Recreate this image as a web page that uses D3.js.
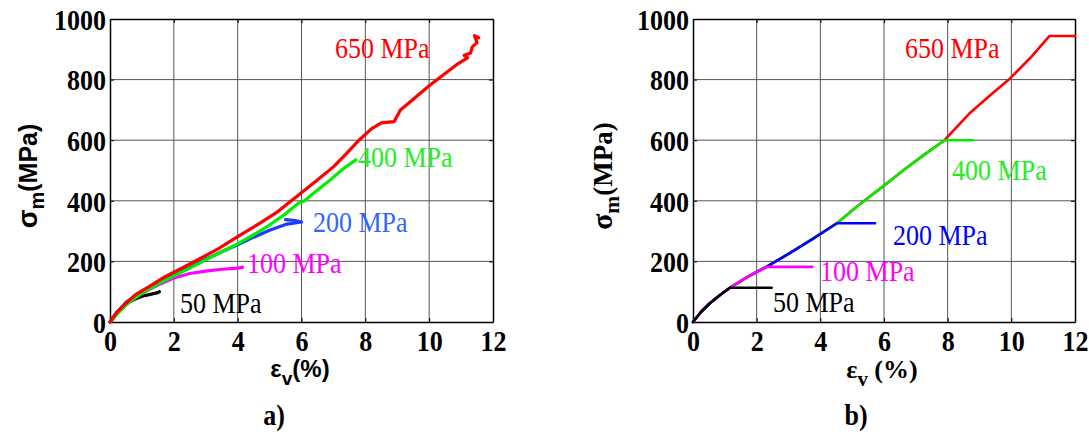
<!DOCTYPE html>
<html><head><meta charset="utf-8">
<script src="https://cdn.jsdelivr.net/npm/d3@7"></script>
<style>body{margin:0;background:#fff}svg{display:block}</style>
</head><body><svg id="c" width="1089" height="432"></svg>
<script>
// ---- data ----
const xTicks = [0, 2, 4, 6, 8, 10, 12];
const yTicks = [0, 200, 400, 600, 800, 1000];
const seriesNames = ["650 MPa", "400 MPa", "200 MPa", "100 MPa", "50 MPa"];

// panel a) measured curves [eps_v %, sigma_m MPa]
const a650 = [[0,0],[0.2,30],[0.5,62],[0.8,90],[1.2,115],[1.7,148],[2.2,175],[2.8,208],[3.4,242],[4.0,282],[4.6,320],[5.2,360],[5.8,410],[6.4,460],[7.0,512],[7.4,555],[7.8,600],[8.2,638],[8.5,657],[8.9,661],[9.1,700],[9.5,735],[10.0,780],[10.5,820],[10.9,852],[11.2,872],[11.1,880],[11.3,888],[11.35,908],[11.5,922],[11.42,945],[11.55,938]];
const a400 = [[0,0],[0.3,35],[0.6,65],[1.0,95],[1.5,125],[2.0,152],[2.5,178],[3.0,205],[3.5,232],[4.0,258],[4.5,288],[5.0,320],[5.5,357],[5.9,392],[6.1,400],[6.3,418],[6.8,460],[7.3,505],[7.7,535]];
const a200 = [[0,0],[0.5,65],[1.0,100],[1.5,128],[2.0,155],[2.5,180],[3.0,207],[3.5,232],[4.0,255],[4.5,280],[5.0,303],[5.5,322],[6.0,330],[5.8,335],[5.5,338]];
const a100 = [[0,0],[0.5,60],[1.0,95],[1.5,122],[2.0,145],[2.5,160],[3.0,168],[3.5,174],[4.0,178],[4.15,180]];
const a50 = [[0,0],[0.2,30],[0.4,52],[0.7,72],[1.0,85],[1.3,92],[1.5,97],[1.55,100]];

// panel b) model curves
const b650 = [[0,0],[0.25,33],[0.53,62],[0.8,85],[1.16,113],[1.7,148],[2.32,183],[3.0,225],[3.7,270],[4.52,326],[5.2,385],[5.89,441],[6.6,500],[7.3,555],[7.9,600],[8.7,690],[9.3,745],[9.96,804],[10.6,872],[11.2,944],[12,944]];
const b400 = [[0,0],[0.25,33],[0.53,62],[0.8,85],[1.16,113],[1.7,148],[2.32,183],[3.0,225],[3.7,270],[4.52,326],[5.2,385],[5.89,441],[6.6,500],[7.3,555],[7.9,600],[8.8,600]];
const b200 = [[0,0],[0.25,33],[0.53,62],[0.8,85],[1.16,113],[1.7,148],[2.32,183],[3.0,225],[3.7,270],[4.52,326],[5.72,326]];
const b100 = [[0,0],[0.25,33],[0.53,62],[0.8,85],[1.16,113],[1.7,148],[2.3,182],[3.75,182]];
const b50 = [[0,0],[0.25,33],[0.53,62],[0.8,85],[1.16,113],[2.47,113]];

// label anchor values [eps, sigma] for annotations
const aLabelPos = [[7.05,871],[7.77,512],[6.36,297],[4.29,162],[2.19,30]];
const bLabelPos = [[6.66,871],[8.14,469],[6.28,254],[3.99,135],[2.51,33]];

const svg = d3.select("#c");
const serif = "'Liberation Serif','Times New Roman',serif";
const sans = "'Liberation Sans',Arial,sans-serif";

function panel(cfg) {
  const x = d3.scaleLinear().domain([0, 12]).range([cfg.l, cfg.r]);
  const y = d3.scaleLinear().domain([0, 1000]).range([cfg.b, cfg.t]);
  const g = svg.append("g");
  // grid
  g.append("g").selectAll("line").data(xTicks.slice(1, -1)).join("line")
    .attr("x1", d => x(d)).attr("x2", d => x(d)).attr("y1", cfg.t).attr("y2", cfg.b)
    .attr("stroke", "#555").attr("stroke-width", 1);
  g.append("g").selectAll("line").data(yTicks.slice(1, -1)).join("line")
    .attr("y1", d => y(d)).attr("y2", d => y(d)).attr("x1", cfg.l).attr("x2", cfg.r)
    .attr("stroke", "#555").attr("stroke-width", 1);
  // axes
  const fmt = d3.format("d");
  const ax = g.append("g").attr("transform", `translate(0,${cfg.b})`)
    .call(d3.axisBottom(x).tickValues(xTicks).tickFormat(fmt).tickSizeInner(-4).tickSizeOuter(0).tickPadding(8));
  const ay = g.append("g").attr("transform", `translate(${cfg.l},0)`)
    .call(d3.axisLeft(y).tickValues(yTicks).tickFormat(fmt).tickSizeInner(-4).tickSizeOuter(0).tickPadding(4));
  g.append("g").attr("transform", `translate(0,${cfg.t})`)
    .call(d3.axisTop(x).tickValues(xTicks).tickSizeInner(-4).tickSizeOuter(0).tickFormat(""));
  g.append("g").attr("transform", `translate(${cfg.r},0)`)
    .call(d3.axisRight(y).tickValues(yTicks).tickSizeInner(-4).tickSizeOuter(0).tickFormat(""));
  g.selectAll(".domain").attr("stroke", "#000").attr("stroke-width", 1.5);
  [ax, ay].forEach(a => a.selectAll("text").attr("font-family", serif).attr("font-weight", "bold")
    .attr("font-size", 26).attr("fill", "#000").attr("transform", "scale(1,1.1)"));
  ax.selectAll("text").attr("dy", "0.72em");
  ay.selectAll("text").attr("dy", "0.36em");
  // curves
  const line = d3.line().x(d => x(d[0])).y(d => y(d[1]));
  cfg.series.forEach((s, i) => {
    g.append("path").attr("d", line(s.data)).attr("fill", "none")
      .attr("stroke", s.color).attr("stroke-width", cfg.lw)
      .attr("stroke-linejoin", "round").attr("stroke-linecap", "round");
  });
  // annotations
  cfg.labels.forEach((p, i) => {
    g.append("text").attr("transform", `translate(${x(p[0])},${y(p[1])}) scale(1,1.1)`)
      .attr("font-family", serif).attr("font-size", 26).attr("fill", cfg.labelColors[i])
      .text(seriesNames[i]);
  });
  return {x, y};
}

const colsA = ["#ff0000", "#00ee00", "#1a3cff", "#ff00ff", "#000000"];
const colsB = ["#ff0000", "#00ee00", "#0000ff", "#ff00ff", "#000000"];

panel({l: 110, r: 493, t: 19, b: 322, lw: 3.2,
  series: [{data: a50, color: colsA[4]}, {data: a100, color: colsA[3]}, {data: a200, color: colsA[2]},
           {data: a400, color: colsA[1]}, {data: a650, color: colsA[0]}],
  labels: aLabelPos, labelColors: ["#ff0000", "#22ee22", "#3366ff", "#ff00ff", "#000"]});

panel({l: 693, r: 1075, t: 19, b: 322, lw: 2.6,
  series: [{data: b650, color: colsB[0]}, {data: b400, color: colsB[1]}, {data: b200, color: colsB[2]},
           {data: b100, color: colsB[3]}, {data: b50, color: colsB[4]}],
  labels: bLabelPos, labelColors: ["#ff0000", "#22ee22", "#0000ff", "#ff00ff", "#000"]});

// axis titles
function yTitle(cx, cy, fam, size) {
  const t = svg.append("text").attr("transform", `translate(${cx},${cy}) rotate(-90)`)
    .attr("text-anchor", "middle").attr("font-family", fam).attr("font-weight", "bold")
    .attr("font-size", size).attr("fill", "#000");
  t.append("tspan").attr("font-size", size * 1.1).text("σ");
  t.append("tspan").attr("font-size", size * 0.8).attr("dy", 7).text("m");
  t.append("tspan").attr("dy", -7).text("(MPa)");
}
yTitle(37, 176, sans, 25);
yTitle(612, 176, serif, 27);

function xTitle(cx, by, fam, size, gap) {
  const t = svg.append("text").attr("x", cx).attr("y", by).attr("text-anchor", "middle")
    .attr("font-family", fam).attr("font-weight", "bold").attr("font-size", size).attr("fill", "#000");
  t.append("tspan").text("ε");
  t.append("tspan").attr("font-size", size * 0.8).attr("dy", 8).text("v");
  t.append("tspan").attr("dy", -8).text(gap + "(%)");
}
xTitle(300, 377, sans, 24, "");
xTitle(882, 378, serif, 26, " ");

svg.append("text").attr("transform", "translate(274,425) scale(1,1.1)").attr("text-anchor", "middle")
  .attr("font-family", serif).attr("font-weight", "bold").attr("font-size", 26).text("a)");
svg.append("text").attr("transform", "translate(856,425) scale(1,1.1)").attr("text-anchor", "middle")
  .attr("font-family", serif).attr("font-weight", "bold").attr("font-size", 26).text("b)");
</script></body></html>
